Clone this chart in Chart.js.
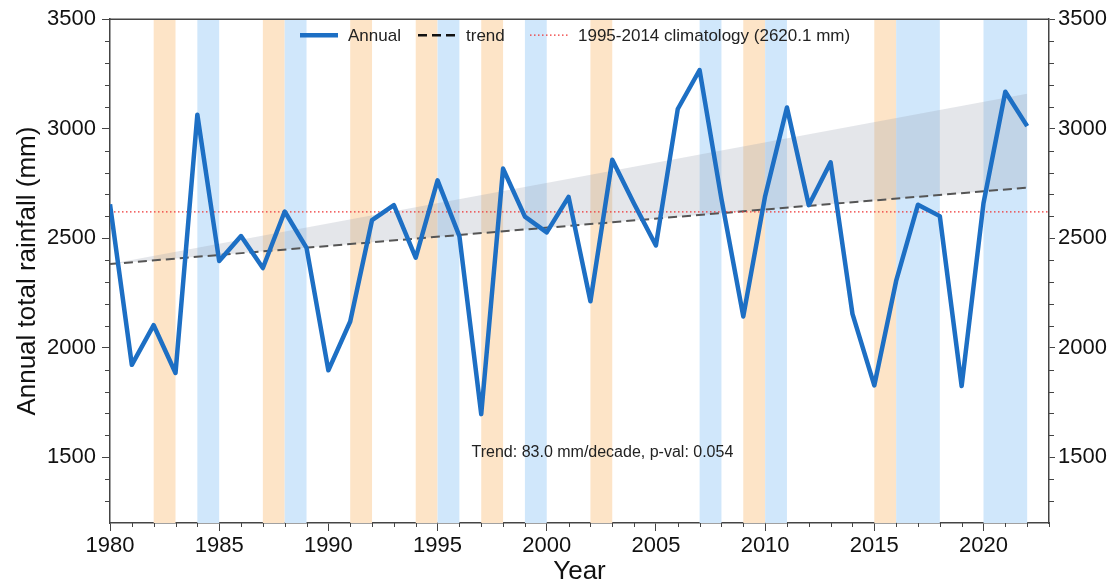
<!DOCTYPE html>
<html>
<head>
<meta charset="utf-8">
<script src="https://cdn.jsdelivr.net/npm/chart.js@4.4.1/dist/chart.umd.min.js"></script>
<style>
  body { margin: 0; background: #fff; }
  #mycanvas { display: block; }
</style>
</head>
<body>
<canvas id="mycanvas" width="1117" height="587"></canvas>
<script>
// annual rainfall (mm)
var years = [1980, 1981, 1982, 1983, 1984, 1985, 1986, 1987, 1988, 1989,
	1990, 1991, 1992, 1993, 1994, 1995, 1996, 1997, 1998, 1999,
	2000, 2001, 2002, 2003, 2004, 2005, 2006, 2007, 2008, 2009,
	2010, 2011, 2012, 2013, 2014, 2015, 2016, 2017, 2018, 2019,
	2020, 2021, 2022];
var rainfall = [2655, 1922, 2103, 1885, 3064, 2396, 2510, 2364, 2622, 2456,
	1897, 2120, 2583, 2651, 2411, 2764, 2510, 1697, 2818, 2599,
	2527, 2689, 2212, 2858, 2658, 2467, 3090, 3268, 2680, 2143,
	2692, 3097, 2651, 2847, 2155, 1828, 2305, 2653, 2601, 1825,
	2660, 3169, 3012];

// trend line and its uncertainty wedge
var trendYears = [1980, 2022];
var trendValues = [2382, 2731];
var bandUpper = [2382, 3160];
var bandLower = [2382, 2382];

var climatology = 2620.1;
var climYears = [1980, 2023];

// warm (orange) and cool (blue) years, as [start, end]
var warmYears = [[1982, 1983], [1987, 1988], [1991, 1992], [1994, 1995], [1997, 1998],
	[2002, 2003], [2009, 2010], [2015, 2016]];
var coolYears = [[1984, 1985], [1988, 1989], [1995, 1996], [1999, 2000], [2007, 2008],
	[2010, 2011], [2016, 2018], [2020, 2022]];

var xTicks = [1980, 1985, 1990, 1995, 2000, 2005, 2010, 2015, 2020];
var yTicks = [1500, 2000, 2500, 3000, 3500];

var trendNote = 'Trend: 83.0 mm/decade, p-val: 0.054';

function pts(xs, ys) {
	var out = [];
	for (var i in xs) out.push({x: xs[i], y: ys[i]});
	return out;
}
function flat(xs, v) {
	var out = [];
	for (var i in xs) out.push({x: xs[i], y: v});
	return out;
}
function plain(v) { return String(v); }

var FONT = "'Liberation Sans', Arial, Helvetica, sans-serif";

var bandsPlugin = {
	id: 'bands',
	beforeDatasetsDraw: function(chart) {
		var ctx = chart.ctx, a = chart.chartArea, x = chart.scales.x;
		ctx.save();
		ctx.fillStyle = '#fde4c7';
		warmYears.forEach(function(b) {
			var x0 = x.getPixelForValue(b[0]), x1 = x.getPixelForValue(b[1]);
			ctx.fillRect(x0, a.top, x1 - x0, a.bottom - a.top);
		});
		ctx.fillStyle = '#d0e7fb';
		coolYears.forEach(function(b) {
			var x0 = x.getPixelForValue(b[0]), x1 = x.getPixelForValue(b[1]);
			ctx.fillRect(x0, a.top, x1 - x0, a.bottom - a.top);
		});
		ctx.restore();
	},
	afterDraw: function(chart) {
		var ctx = chart.ctx, a = chart.chartArea;
		var x = chart.scales.x, y = chart.scales.y;
		ctx.save();
		// frame
		ctx.strokeStyle = '#444';
		ctx.lineWidth = 1.5;
		ctx.beginPath();
		ctx.moveTo(a.left, a.top);
		ctx.lineTo(a.right, a.top);
		ctx.stroke();
		// minor ticks
		ctx.lineWidth = 1;
		ctx.beginPath();
		for (var yr = 1981; yr <= 2023; yr++) {
			if (yr % 5 === 0) continue;
			var px = Math.round(x.getPixelForValue(yr)) + 0.5;
			ctx.moveTo(px, a.bottom);
			ctx.lineTo(px, a.bottom + 4);
		}
		for (var v = 1300; v < 3500; v += 100) {
			if (v % 500 === 0) continue;
			var py = Math.round(y.getPixelForValue(v)) + 0.5;
			ctx.moveTo(a.left - 5, py);
			ctx.lineTo(a.left, py);
			ctx.moveTo(a.right, py);
			ctx.lineTo(a.right + 5, py);
		}
		ctx.stroke();

		// trend note
		ctx.fillStyle = '#222';
		ctx.font = '16px ' + FONT;
		ctx.textAlign = 'center';
		ctx.textBaseline = 'middle';
		ctx.fillText(trendNote, x.getPixelForValue(2002.55), y.getPixelForValue(1523));

		// legend
		var ds = chart.data.datasets;
		var ly = a.top + 16;
		var items = [
			{ds: ds[3], x0: a.left + 190, color: ds[3].borderColor, w: 4.5},
			{ds: ds[1], x0: a.left + 308, color: '#111', w: 2.5},
			{ds: ds[4], x0: a.left + 420, color: ds[4].borderColor, w: 1.2}
		];
		ctx.font = '17px ' + FONT;
		ctx.textAlign = 'left';
		items.forEach(function(it) {
			var d = it.ds;
			ctx.strokeStyle = it.color;
			ctx.lineWidth = it.w;
			ctx.setLineDash(d.borderDash || []);
			ctx.beginPath();
			ctx.moveTo(it.x0, ly);
			ctx.lineTo(it.x0 + 38, ly);
			ctx.stroke();
			ctx.setLineDash([]);
			ctx.fillStyle = '#222';
			ctx.fillText(d.label, it.x0 + 48, ly + 1);
		});
		ctx.restore();
	}
};

var ctx = document.getElementById('mycanvas');

var chart = new Chart(ctx, {
	type: 'line',
	data: {
		datasets: [
			{
				label: 'upper',
				data: pts(trendYears, bandUpper),
				borderWidth: 0,
				pointRadius: 0,
				backgroundColor: 'rgba(150,160,172,0.26)',
				fill: '+1',
				order: 5
			},
			{
				label: 'trend',
				data: pts(trendYears, trendValues),
				borderColor: '#555',
				borderWidth: 2,
				borderDash: [9, 5],
				pointRadius: 0,
				fill: false,
				order: 3
			},
			{
				label: 'lower',
				data: pts(trendYears, bandLower),
				borderWidth: 0,
				pointRadius: 0,
				fill: false,
				order: 6
			},
			{
				label: 'Annual',
				data: pts(years, rainfall),
				borderColor: '#1d6fc4',
				borderWidth: 4.5,
				borderJoinStyle: 'round',
				pointRadius: 0,
				tension: 0,
				fill: false,
				order: 1
			},
			{
				label: '1995-2014 climatology (2620.1 mm)',
				data: flat(climYears, climatology),
				borderColor: '#ee3333',
				borderWidth: 1.2,
				borderDash: [1.5, 2.5],
				pointRadius: 0,
				fill: false,
				order: 2
			}
		]
	},
	options: {
		responsive: false,
		animation: false,
		layout: { padding: { top: 15, left: 0, right: 0, bottom: 0 } },
		plugins: {
			legend: { display: false },
			tooltip: { enabled: false }
		},
		scales: {
			x: {
				type: 'linear',
				min: 1980,
				max: 2023,
				afterBuildTicks: function(s) { s.ticks = xTicks.map(function(v) { return {value: v}; }); },
				afterFit: function(s) { s.height = 64; },
				ticks: {
					color: '#111',
					font: { family: FONT, size: 22 },
					padding: 2,
					maxRotation: 0,
					callback: plain
				},
				grid: { drawOnChartArea: false, tickLength: 8, color: '#444', lineWidth: 1 },
				border: { color: '#444', width: 1.5 },
				title: {
					display: true,
					text: 'Year',
					color: '#111',
					font: { family: FONT, size: 26 },
					padding: { top: -2, bottom: 0 }
				}
			},
			y: {
				position: 'left',
				min: 1200,
				max: 3500,
				afterBuildTicks: function(s) { s.ticks = yTicks.map(function(v) { return {value: v}; }); },
				afterFit: function(s) { s.width = 110; },
				ticks: {
					color: '#111',
					font: { family: FONT, size: 22 },
					padding: 6,
					callback: plain
				},
				grid: { drawOnChartArea: false, tickLength: 8, color: '#444', lineWidth: 1 },
				border: { color: '#444', width: 1.5 },
				title: {
					display: true,
					text: 'Annual total rainfall (mm)',
					color: '#111',
					font: { family: FONT, size: 26 },
					padding: { top: 12, bottom: 0 }
				}
			},
			y2: {
				position: 'right',
				min: 1200,
				max: 3500,
				afterBuildTicks: function(s) { s.ticks = yTicks.map(function(v) { return {value: v}; }); },
				afterFit: function(s) { s.width = 68; },
				ticks: {
					color: '#111',
					font: { family: FONT, size: 22 },
					padding: 3,
					callback: plain
				},
				grid: { drawOnChartArea: false, tickLength: 6, color: '#444', lineWidth: 1 },
				border: { color: '#444', width: 1.5 }
			}
		}
	},
	plugins: [bandsPlugin]
});
</script>
</body>
</html>
